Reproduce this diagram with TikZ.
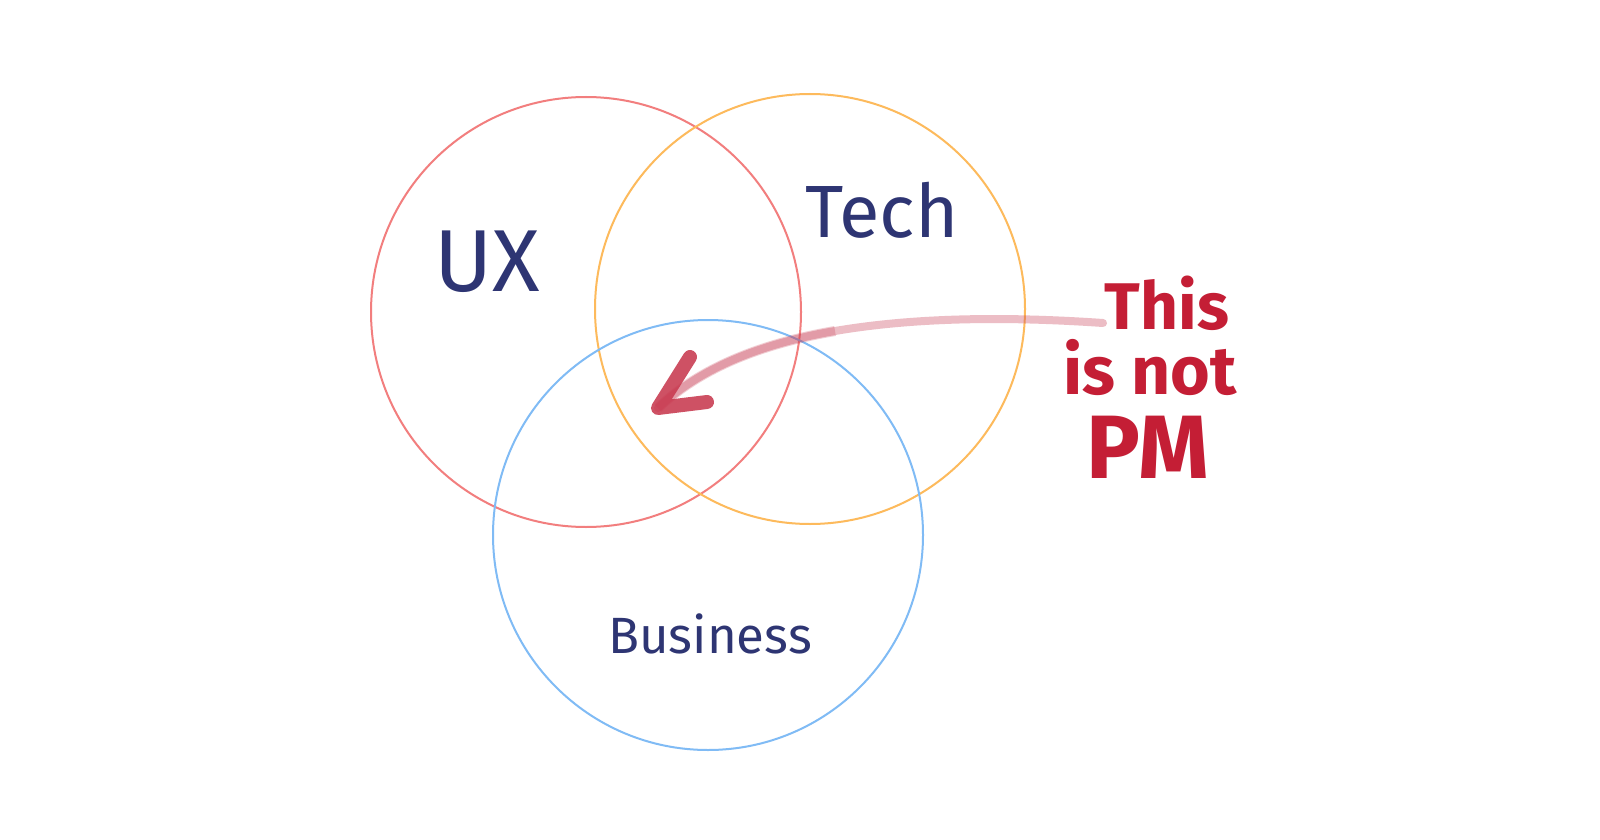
\documentclass[tikz,border=0pt]{standalone}
\usepackage{fontspec}
\setmainfont{Fira Sans}
\definecolor{ink}{HTML}{2E3573}
\definecolor{pmred}{HTML}{C41E35}
\definecolor{arrred}{HTML}{C8394F}
\definecolor{cred}{HTML}{F27E7E}
\definecolor{corange}{HTML}{FDBA5C}
\definecolor{cblue}{HTML}{80BBF5}
\begin{document}
\begin{tikzpicture}[x=1pt,y=-1pt,
  venn/.style={circle,draw,line width=2pt,minimum size=430pt,inner sep=0pt},
  label/.style={text=ink,font=\fontsize{88}{90}\selectfont},
  note/.style={text=pmred,inner sep=0pt,anchor=base,font=\bfseries\fontsize{66}{68}\selectfont},
  shaft/.style={draw=arrred,line width=9pt,line cap=round},
  barb/.style={draw=arrred,line width=14pt,line cap=round,line join=round,opacity=0.88}]
\useasboundingbox[fill=white] (0,0) rectangle (1600,840);
% circles
\node[venn,draw=cred] (ux) at (586,312) {};
\node[venn,draw=corange] (tech) at (810,309) {};
\node[venn,draw=cblue] (biz) at (708,535) {};
% labels
\node[label] (uxt) at (487,262) {UX};
\node[label,font=\fontsize{74}{76}\selectfont] (techt) at (882,210) {Tech};
\node[label,font=\fontsize{51}{53}\selectfont] (bizt) at (710,634) {Business};
\node[note] (this) at (1167,329) {This};
\node[note,font=\bfseries\fontsize{68}{70}\selectfont] (isnot) at (1150,394) {is not};
\node[note,font=\bfseries\fontsize{90}{92}\selectfont] (pm) at (1148,478) {PM};
% arrow
\coordinate (start) at (1103,323);
\coordinate (mid) at (835,331);
\coordinate (tip) at (658,408);
\coordinate (b1) at (690,357);
\coordinate (b2) at (707,402);
\draw[shaft,opacity=0.33,line width=8pt] (start) .. controls (1001,316) and (911,318) .. (mid)
  .. controls (759,344) and (699,369) .. (tip);
\draw[shaft,opacity=0.25,line width=10pt,line cap=butt] (mid) .. controls (759,344) and (699,369) .. (tip);
\draw[barb] (b1) -- (tip) -- (b2);
\end{tikzpicture}
\end{document}
